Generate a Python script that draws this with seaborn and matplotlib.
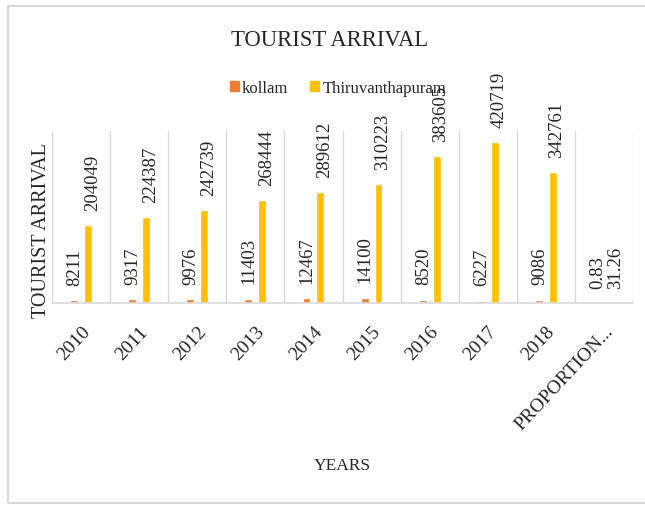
import numpy as np
import pandas as pd
import matplotlib
matplotlib.use("Agg")
import matplotlib.pyplot as plt
import matplotlib.patches as mpatches
import seaborn as sns

categories = ["2010", "2011", "2012", "2013", "2014", "2015", "2016", "2017", "2018", "PROPORTION..."]
kollam = [8211, 9317, 9976, 11403, 12467, 14100, 8520, 6227, 9086, 0.83]
thiru = [204049, 224387, 242739, 268444, 289612, 310223, 383605, 420719, 342761, 31.26]
series_names = ["kollam", "Thiruvanthapuram"]
colors = ["#ED7D31", "#FFC000"]

df = pd.DataFrame({
    "Year": categories * 2,
    "Value": kollam + thiru,
    "Series": [series_names[0]] * len(categories) + [series_names[1]] * len(categories),
})

sns.set_theme(style="white")
plt.rcParams["font.family"] = ["Liberation Serif", "DejaVu Serif"]

W, H = 645, 506
fig = plt.figure(figsize=(W / 100, H / 100), dpi=100)
ax = fig.add_axes([52 / W, 1 - 304 / H, 581 / W, 172 / H])

sns.barplot(data=df, x="Year", y="Value", hue="Series", order=categories,
            hue_order=series_names, palette=colors, width=0.48, gap=0.43,
            ax=ax, legend=True, saturation=1)

ax.set_ylim(0, 450000)
ax.set_xlim(-0.5, len(categories) - 0.5)
ax.set_yticks([])
ax.set_xlabel("")
ax.set_ylabel("")
for s in ["top", "left", "right"]:
    ax.spines[s].set_visible(False)
ax.spines["bottom"].set_color("#d9d9d9")
ax.spines["bottom"].set_linewidth(1.2)
ax.set_xticks(np.arange(-0.5, len(categories), 1), minor=True)
ax.grid(which="minor", axis="x", color="#d9d9d9", linewidth=1.0)
ax.grid(which="major", visible=False)
ax.tick_params(which="both", length=0)
ax.tick_params(axis="x", which="major", pad=14, labelsize=14, labelcolor="#262626")
plt.setp(ax.get_xticklabels(), rotation=47, ha="right", rotation_mode="anchor")

def fmt(v):
    return str(int(v)) if float(v).is_integer() else str(v)

offsets = [0.5, 3]
for cont, vals, dx in zip(ax.containers, [kollam, thiru], offsets):
    for patch, v in zip(cont.patches, vals):
        xc = patch.get_x() + patch.get_width() / 2
        ax.annotate(fmt(v), xy=(xc, patch.get_height()), xytext=(dx, 11),
                    textcoords="offset points", rotation=90, ha="center",
                    va="bottom", fontsize=13.5, color="#262626", annotation_clip=False)

leg = ax.get_legend()
if leg is not None:
    leg.remove()
handles = [mpatches.Patch(color=c) for c in colors]
fig.legend(handles, series_names, loc="center", bbox_to_anchor=(338 / W, 1 - 89 / H),
           ncol=2, frameon=False, fontsize=12, handlelength=0.55, handleheight=0.55,
           handletextpad=0.2, columnspacing=1.3, labelcolor="#262626")

fig.text(330 / W, 1 - 40 / H, "TOURIST ARRIVAL", ha="center", va="center",
         fontsize=16.3, color="#262626")
fig.text(42 / W, 1 - 231 / H, "TOURIST ARRIVAL", ha="center", va="center",
         rotation=90, fontsize=14.5, color="#262626")
fig.text(342 / W, 1 - 466 / H, "YEARS", ha="center", va="center",
         fontsize=12.5, color="#262626")

fig.patches.append(mpatches.Rectangle((8 / W, 1 - 504 / H), 700 / W, 497 / H,
                                      transform=fig.transFigure, fill=False,
                                      edgecolor="#d9d9d9", linewidth=1.5))

fig.savefig("out.png", dpi=100, facecolor="white")
